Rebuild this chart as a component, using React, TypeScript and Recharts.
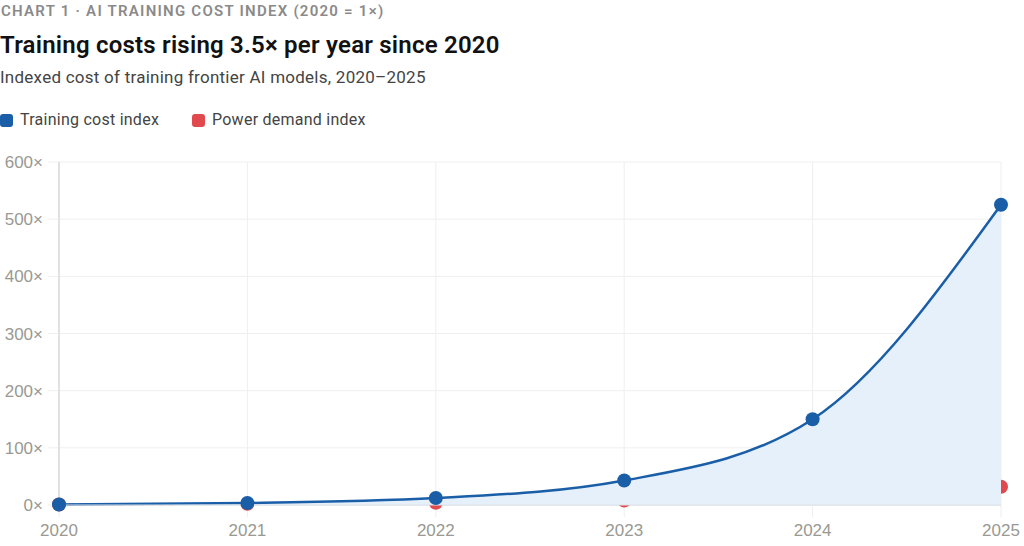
import { Area, AreaChart, CartesianGrid, XAxis, YAxis } from 'recharts';

const years = ['2020', '2021', '2022', '2023', '2024', '2025'];
const trainingCost = [1, 3.5, 12.25, 42.88, 150.06, 525.22];
const powerDemand = [1, 2, 4, 8, 16, 32];
const yTicks = [0, 100, 200, 300, 400, 500, 600];

const BLUE = '#1a5ea8';
const RED = '#e04a4e';
const TEXT_FONT = 'Roboto, "Noto Sans", sans-serif';
const TICK_FONT = '"Liberation Sans", Arial, sans-serif';

const chartData = years.map((year, i) => ({
  year,
  cost: trainingCost[i],
  power: powerDemand[i],
}));

const W = 1024;
const H = 406;
const margin = { top: 22, right: 23, left: 0, bottom: 0 };
const tickStyle = { fill: '#999992', fontSize: 17, fontFamily: TICK_FONT };

function LegendItem({ color, label, left }: { color: string; label: string; left: number }) {
  return (
    <div style={{ position: 'absolute', left, top: 112, display: 'flex', alignItems: 'center' }}>
      <span
        style={{ width: 13, height: 13, borderRadius: 3, background: color, display: 'inline-block', marginRight: 7 }}
      />
      <span style={{ fontSize: 16, color: '#444', lineHeight: '16px', letterSpacing: 0.25 }}>{label}</span>
    </div>
  );
}

// red series sits under the blue area, so it gets its own chart underneath
function BackChart() {
  return (
    <AreaChart width={W} height={H} data={chartData} margin={margin}>
      <CartesianGrid stroke="#efefef" strokeWidth={1} />
      <XAxis
        dataKey="year"
        height={41}
        tickSize={12}
        tickMargin={7}
        tickLine={{ stroke: '#eeeeee' }}
        axisLine={{ stroke: '#dde2e8' }}
        tick={tickStyle}
        interval={0}
      />
      <YAxis
        domain={[0, 600]}
        ticks={yTicks}
        width={59}
        tickSize={11}
        tickMargin={5}
        tickLine={{ stroke: '#efefef' }}
        axisLine={{ stroke: '#d9d9d9' }}
        tick={tickStyle}
        tickFormatter={(v) => `${v}×`}
      />
      <Area
        type="monotone"
        dataKey="power"
        name="Power demand index"
        stroke={RED}
        strokeWidth={2}
        strokeDasharray="5 5"
        fill="none"
        dot={{ r: 7, fill: RED, fillOpacity: 1, stroke: 'none' }}
        activeDot={false}
        isAnimationActive={false}
      />
    </AreaChart>
  );
}

function FrontChart() {
  return (
    <AreaChart width={W} height={H} data={chartData} margin={margin}>
      <XAxis dataKey="year" height={41} tick={false} tickLine={false} axisLine={{ stroke: '#dde2e8' }} interval={0} />
      <YAxis domain={[0, 600]} ticks={yTicks} width={59} tick={false} tickLine={false} axisLine={{ stroke: '#d9d9d9' }} />
      <Area
        type="monotone"
        dataKey="cost"
        name="Training cost index"
        stroke={BLUE}
        strokeWidth={2.5}
        fill="#e6f0fb"
        fillOpacity={1}
        dot={{ r: 7, fill: BLUE, fillOpacity: 1, stroke: 'none' }}
        activeDot={false}
        isAnimationActive={false}
      />
    </AreaChart>
  );
}

export default function App() {
  return (
    <div
      style={{
        position: 'fixed',
        left: 0,
        top: 0,
        width: 1024,
        height: 546,
        background: '#fff',
        fontFamily: TEXT_FONT,
        overflow: 'hidden',
      }}
    >
      <div
        style={{
          position: 'absolute',
          left: 1,
          top: 4,
          fontSize: 15,
          lineHeight: '15px',
          fontWeight: 600,
          letterSpacing: 1.25,
          color: '#8a8a8a',
          whiteSpace: 'nowrap',
        }}
      >
        CHART 1 · AI TRAINING COST INDEX (2020 = 1×)
      </div>
      <div
        style={{
          position: 'absolute',
          left: 0,
          top: 33,
          fontSize: 24,
          lineHeight: '24px',
          fontWeight: 600,
          letterSpacing: 0.22,
          color: '#111',
          whiteSpace: 'nowrap',
        }}
      >
        Training costs rising 3.5× per year since 2020
      </div>
      <div
        style={{
          position: 'absolute',
          left: 0,
          top: 69,
          fontSize: 17,
          lineHeight: '17px',
          letterSpacing: 0.25,
          color: '#444',
          whiteSpace: 'nowrap',
        }}
      >
        Indexed cost of training frontier AI models, 2020–2025
      </div>
      <LegendItem color={BLUE} label="Training cost index" left={0} />
      <LegendItem color={RED} label="Power demand index" left={192} />

      <div style={{ position: 'absolute', left: 0, top: 140 }}>
        <BackChart />
      </div>
      <div style={{ position: 'absolute', left: 0, top: 140 }}>
        <FrontChart />
      </div>
    </div>
  );
}
